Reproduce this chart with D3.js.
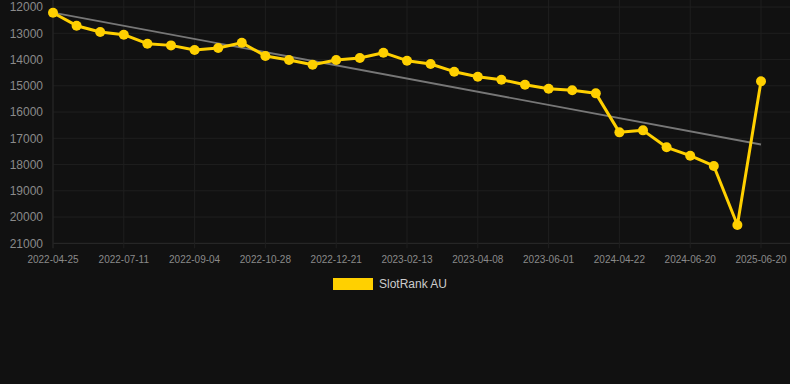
<!DOCTYPE html>
<html><head><meta charset="utf-8">
<script src="https://cdn.jsdelivr.net/npm/d3@7/dist/d3.min.js"></script>
<style>html,body{margin:0;padding:0;background:#111111;}svg{display:block;}</style>
</head><body><svg id="c" width="790" height="384"></svg>
<script>
const categories = ["2022-04-25","2022-05-20","2022-06-15","2022-07-11","2022-07-29","2022-08-17","2022-09-04","2022-09-22","2022-10-10","2022-10-28","2022-11-15","2022-12-03","2022-12-21","2023-01-08","2023-01-26","2023-02-13","2023-03-03","2023-03-21","2023-04-08","2023-04-26","2023-05-14","2023-06-01","2023-08-15","2024-01-10","2024-04-22","2024-05-12","2024-06-01","2024-06-20","2024-10-01","2025-02-10","2025-06-20"];
const rankValues = [12216,12710,12950,13053,13395,13460,13636,13560,13358,13865,14017,14195,14017,13941,13739,14043,14170,14462,14653,14767,14957,15109,15172,15288,16774,16697,17343,17663,18055,20303,14830];
const yTicks = [12000,13000,14000,15000,16000,17000,18000,19000,20000,21000];
const seriesName = "SlotRank AU";

const svg = d3.select("#c");
const pLeft = 53, pRight = 761, pTop = 7.05, pBottom = 243.3;
const x = d3.scalePoint().domain(categories).range([pLeft, pRight]);
const y = d3.scaleLinear().domain([12000, 21000]).range([pTop, pBottom]);

// grid
const g = svg.append("g");
g.selectAll("line.h").data(yTicks).enter().append("line")
  .attr("x1", pLeft).attr("x2", 790).attr("y1", d => y(d)).attr("y2", d => y(d))
  .attr("stroke", d => d === 21000 ? "#2c2c2c" : "#1f1f1f").attr("stroke-width", 1);
const shown = categories.filter((d, i) => i % 3 === 0);
g.selectAll("line.v").data(shown).enter().append("line")
  .attr("x1", d => x(d)).attr("x2", d => x(d)).attr("y1", 0).attr("y2", pBottom + 5)
  .attr("stroke", "#1f1f1f").attr("stroke-width", 1);
g.append("line").attr("x1", pLeft).attr("x2", pLeft).attr("y1", 0).attr("y2", pBottom + 5).attr("stroke", "#262626");

// y labels
svg.append("g").selectAll("text").data(yTicks).enter().append("text")
  .attr("x", 43).attr("y", d => y(d)).attr("dy", "0.35em").attr("text-anchor", "end")
  .attr("font-family", "Liberation Sans, Arial, sans-serif").attr("font-size", 12).attr("fill", "#8a8a8a")
  .text(d => d);
// x labels
svg.append("g").selectAll("text").data(shown).enter().append("text")
  .attr("x", d => x(d)).attr("y", 263).attr("text-anchor", "middle")
  .attr("font-family", "Liberation Sans, Arial, sans-serif").attr("font-size", 10).attr("fill", "#8a8a8a")
  .text(d => d);

// trend (least squares on the data)
const n = rankValues.length;
const mx = d3.mean(rankValues, (d, i) => i), my = d3.mean(rankValues);
const slope = d3.sum(rankValues, (d, i) => (i - mx) * (d - my)) / d3.sum(rankValues, (d, i) => (i - mx) ** 2);
const b = my - slope * mx;
svg.append("line")
  .attr("x1", x(categories[0])).attr("y1", y(b))
  .attr("x2", x(categories[n - 1])).attr("y2", y(b + slope * (n - 1)))
  .attr("stroke", "#777777").attr("stroke-width", 1.8);

// series
const line = d3.line().x((d, i) => x(categories[i])).y(d => y(d));
svg.append("path").datum(rankValues).attr("d", line)
  .attr("fill", "none").attr("stroke", "#FFD000").attr("stroke-width", 3).attr("stroke-linejoin", "round");
svg.append("g").selectAll("circle").data(rankValues).enter().append("circle")
  .attr("cx", (d, i) => x(categories[i])).attr("cy", d => y(d)).attr("r", 5).attr("fill", "#FFD000");

// legend
svg.append("rect").attr("x", 333).attr("y", 278).attr("width", 40).attr("height", 12).attr("fill", "#FFD000");
svg.append("text").attr("x", 379).attr("y", 284).attr("dy", "0.35em")
  .attr("font-family", "Liberation Sans, Arial, sans-serif").attr("font-size", 12).attr("fill", "#cccccc")
  .text(seriesName);
</script></body></html>
